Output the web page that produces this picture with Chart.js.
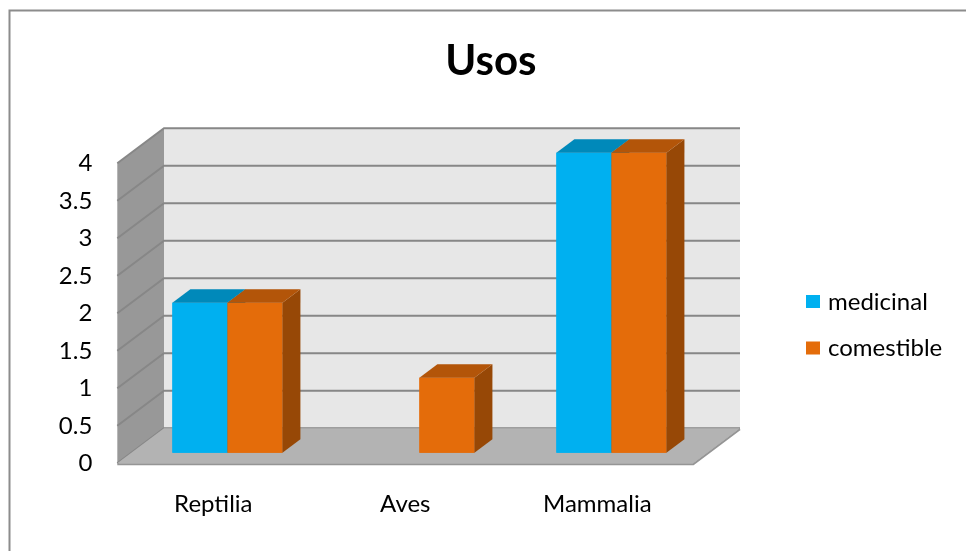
<!DOCTYPE html>
<html>
<head>
<meta charset="utf-8">
<script src="https://cdn.jsdelivr.net/npm/chart.js@4"></script>
<style>
  body { margin: 0; background: #fff; }
  #wrap { width: 966px; height: 551px; }
</style>
</head>
<body>
<div id="wrap"><canvas id="usosChart"></canvas></div>
<script>
const categories = ['Reptilia', 'Aves', 'Mammalia'];
const seriesNames = ['medicinal', 'comestible'];
const medicinal = [2, 0, 4];
const comestible = [2, 1, 4];
const yTicks = [0, 0.5, 1, 1.5, 2, 2.5, 3, 3.5, 4];
const yTickLabels = ['0', '0.5', '1', '1.5', '2', '2.5', '3', '3.5', '4'];

// fake 3d geometry (pixels)
const DX = 46.7, DY = -35;        // depth of the walls / floor
const BSX = 14.1, BSY = -10.6;    // bars sit a bit behind the front edge
const BDX = 18, BDY = -13.4;      // depth of each bar
const FONT = 'Lato, "Noto Sans", sans-serif';

function poly(ctx, pts, fill) {
    ctx.beginPath();
    ctx.moveTo(pts[0][0], pts[0][1]);
    for (let i = 1; i < pts.length; i++) ctx.lineTo(pts[i][0], pts[i][1]);
    ctx.closePath();
    ctx.fillStyle = fill;
    ctx.fill();
}

const fake3d = {
    id: 'fake3d',
    beforeDraw(chart) {
        const ctx = chart.ctx;
        const a = chart.chartArea;
        const y = chart.scales.y;
        const top = y.getPixelForValue(yTicks[yTicks.length - 1]);
        const bot = y.getPixelForValue(0);
        ctx.save();
        ctx.fillStyle = '#fff';
        ctx.fillRect(0, 0, chart.width, chart.height);

        // outer frame
        ctx.strokeStyle = '#8c8c8c';
        ctx.lineWidth = 2;
        ctx.beginPath();
        ctx.moveTo(9.5, 700);
        ctx.lineTo(9.5, 10.5);
        ctx.lineTo(1200, 10.5);
        ctx.stroke();

        // back wall + side wall
        ctx.fillStyle = '#e7e7e7';
        ctx.fillRect(a.left + DX, top + DY, a.right - a.left, bot - top);
        poly(ctx, [[a.left, top], [a.left + DX, top + DY], [a.left + DX, bot + DY], [a.left, bot]], '#989898');

        // grid lines on both walls
        ctx.strokeStyle = '#878787';
        ctx.lineWidth = 2;
        yTicks.forEach(v => {
            const py = y.getPixelForValue(v);
            ctx.beginPath();
            ctx.moveTo(a.left, py);
            ctx.lineTo(a.left + DX, py + DY);
            ctx.lineTo(a.right + DX, py + DY);
            ctx.stroke();
        });

        // floor
        poly(ctx, [[a.left, bot], [a.right, bot], [a.right + DX, bot + DY], [a.left + DX, bot + DY]], '#b3b3b3');
        ctx.strokeStyle = '#959595';
        ctx.beginPath();
        ctx.moveTo(a.left, bot + 1);
        ctx.lineTo(a.right, bot + 1);
        ctx.lineTo(a.right + DX, bot + DY + 1);
        ctx.stroke();

        // title
        ctx.fillStyle = '#000';
        ctx.font = 'bold 42px ' + FONT;
        ctx.textAlign = 'center';
        ctx.textBaseline = 'alphabetic';
        ctx.fillText('Usos', 490.8, 75);

        // legend
        ctx.font = '24px ' + FONT;
        ctx.textAlign = 'left';
        ctx.textBaseline = 'middle';
        chart.data.datasets.forEach((ds, i) => {
            const ly = 302 + i * 46.5;
            ctx.fillStyle = ds.backgroundColor;
            ctx.fillRect(806, ly - 7, 14, 13);
            ctx.fillStyle = '#000';
            ctx.fillText(ds.label, 828, ly);
        });
        ctx.restore();
    },
    beforeDatasetsDraw(chart) {
        chart.ctx.save();
        chart.ctx.translate(BSX, BSY);
    },
    afterDatasetsDraw(chart) {
        // redraw every bar as a block, series by series, left to right
        const ctx = chart.ctx;
        chart.data.datasets.forEach((ds, di) => {
            chart.getDatasetMeta(di).data.forEach((bar, i) => {
                if (!ds.data[i]) return;
                const p = bar.getProps(['x', 'y', 'base', 'width'], true);
                const l = p.x - p.width / 2, r = p.x + p.width / 2;
                ctx.fillStyle = ds.backgroundColor;
                ctx.fillRect(l, p.y, p.width, p.base - p.y);
                poly(ctx, [[r, p.y], [r + BDX, p.y + BDY], [r + BDX, p.base + BDY], [r, p.base]], ds.sideColor);
                poly(ctx, [[l, p.y], [r, p.y], [r + BDX, p.y + BDY], [l + BDX, p.y + BDY]], ds.topColor);
            });
        });
        ctx.restore();
    }
};

new Chart(document.getElementById('usosChart'), {
    type: 'bar',
    data: {
        labels: categories,
        datasets: [
            { label: seriesNames[0], data: medicinal, backgroundColor: '#00b0f0', topColor: '#0089ba', sideColor: '#007aa8', clip: false },
            { label: seriesNames[1], data: comestible, backgroundColor: '#e46c0a', topColor: '#b35509', sideColor: '#974806', clip: false }
        ]
    },
    options: {
        responsive: true,
        maintainAspectRatio: false,
        animation: false,
        layout: { padding: { top: 163.3, right: 272.7, left: 0, bottom: 0 } },
        datasets: { bar: { categoryPercentage: 0.573, barPercentage: 1 } },
        plugins: { legend: { display: false }, title: { display: false }, tooltip: { enabled: false } },
        scales: {
            x: {
                grid: { display: false, drawTicks: false },
                border: { display: false },
                ticks: { color: '#000', padding: 27, font: { family: FONT, size: 24 } },
                afterFit: s => { s.height = 551 - 463.3; }
            },
            y: {
                min: 0,
                max: 4,
                grid: { display: false, drawTicks: false },
                border: { display: false },
                ticks: {
                    color: '#000', padding: 25, font: { family: FONT, size: 24 },
                    callback: (v, i) => yTickLabels[i]
                },
                afterBuildTicks: s => { s.ticks = yTicks.map(v => ({ value: v })); },
                afterFit: s => { s.width = 117.3; }
            }
        }
    },
    plugins: [fake3d]
});
</script>
</body>
</html>
